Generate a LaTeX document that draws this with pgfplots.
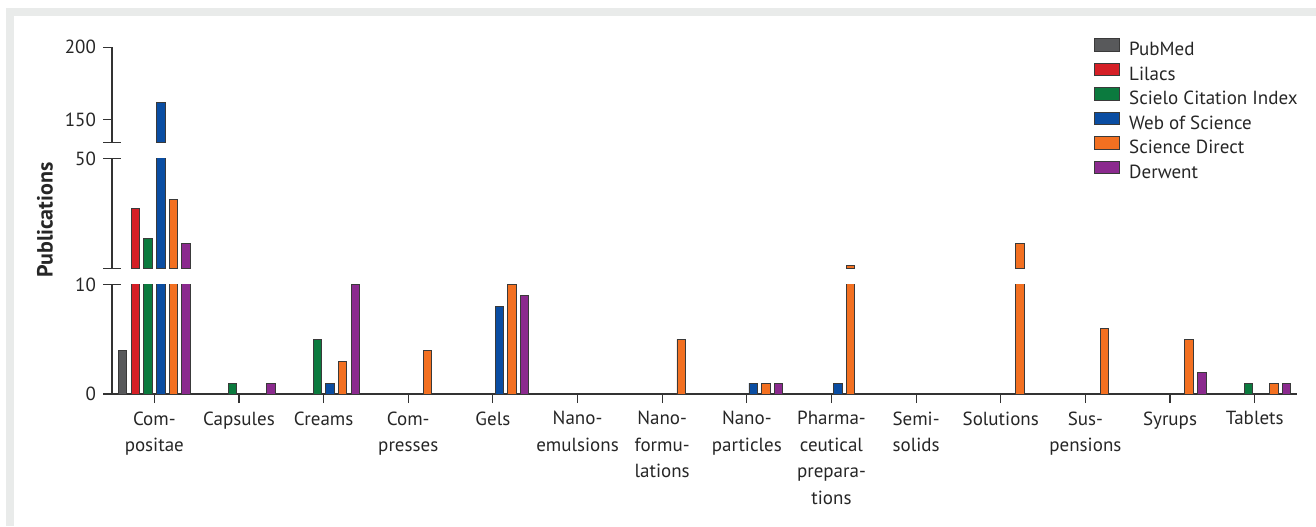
\documentclass[border=0pt]{standalone}
\usepackage{fontspec}
\setmainfont{PT Sans}
\usepackage{pgfplots}
\usepackage{pgfplotstable}
\pgfplotsset{compat=1.18}
\definecolor{cPub}{HTML}{58595B}
\definecolor{cLil}{HTML}{D51F26}
\definecolor{cSci}{HTML}{0B7A3E}
\definecolor{cWos}{HTML}{0A4DA2}
\definecolor{cSd}{HTML}{F37021}
\definecolor{cDer}{HTML}{8B2A8E}
\definecolor{barcol}{HTML}{3A3A3A}
\definecolor{axcol}{HTML}{333333}
\definecolor{framecol}{HTML}{E9EBEA}
\pgfplotstableread{
x pub lil sci wos sd der
0 4 32 21 162 35 19
1 0 0 1 0 0 1
2 0 0 5 1 3 10
3 0 0 0 0 4 0
4 0 0 0 8 10 9
5 0 0 0 0 0 0
6 0 0 0 0 5 0
7 0 0 0 1 1 1
8 0 0 0 1 11 0
9 0 0 0 0 0 0
10 0 0 0 0 19 0
11 0 0 0 0 6 0
12 0 0 0 0 5 2
13 0 0 1 0 1 1
}\data
\pgfplotsset{
  brk/.style={scale only axis, width=592.5pt, xmin=-0.5, xmax=13.5,
    anchor=south west,
    axis line style={draw=axcol, line width=0.6pt, -},
    tick style={draw=axcol, line width=0.6pt},
    tick align=outside, major tick length=4.5pt,
    ytick pos=left,
    tick label style={font=\fontsize{9.5}{11}\selectfont, text=black!85},
    /pgf/number format/assume math mode=true},
  bars/.style={ybar, bar width=0.1, draw=barcol, line width=0.4pt, forget plot},
}
\newcommand{\allbars}{%
  \addplot[bars, fill=cPub, bar shift=-0.375] table[x=x,y=pub] {\data};
  \addplot[bars, fill=cLil, bar shift=-0.225] table[x=x,y=lil] {\data};
  \addplot[bars, fill=cSci, bar shift=-0.075] table[x=x,y=sci] {\data};
  \addplot[bars, fill=cWos, bar shift=0.075] table[x=x,y=wos] {\data};
  \addplot[bars, fill=cSd, bar shift=0.225] table[x=x,y=sd] {\data};
  \addplot[bars, fill=cDer, bar shift=0.375] table[x=x,y=der] {\data};
}
\begin{document}
\begin{tikzpicture}
\useasboundingbox (0,0) rectangle (658pt,263pt);
\fill[framecol] (3pt,255pt) rectangle (658pt,259pt);
\fill[framecol] (3pt,0pt) rectangle (7pt,259pt);
\node[rotate=90, font=\bfseries\fontsize{11}{13}\selectfont, text=black!85] at (22.5pt,153pt) {Publications};
% bottom segment
\begin{axis}[brk, at={(56pt,66pt)}, height=54.75pt, ymin=0, ymax=10,
  axis x line*=bottom, axis y line*=left,
  ytick={0}, extra y ticks={10},
  extra y tick style={tick align=center, major tick length=9pt},
  xtick={0,...,13}, xtick pos=bottom,
  xticklabels={{Com-\\positae},Capsules,Creams,{Com-\\presses},Gels,{Nano-\\emulsions},{Nano-\\formu-\\lations},{Nano-\\particles},{Pharma-\\ceutical\\prepara-\\tions},{Semi-\\solids},Solutions,{Sus-\\pensions},Syrups,Tablets},
  xticklabel style={align=center, font=\fontsize{9.5}{13.2}\selectfont, yshift=-0.7pt},
  restrict y to domain=0.5:1000]
\allbars
\end{axis}
% middle segment
\begin{axis}[brk, at={(56pt,128.85pt)}, height=54.9pt, ymin=10, ymax=50,
  axis x line=none, axis y line*=left, xtick=\empty,
  ytick={10,50}, yticklabels={,50}, tick align=center, major tick length=9pt,
  restrict y to domain=10.5:1000]
\allbars
\end{axis}
% top segment
\begin{axis}[brk, at={(56pt,191.75pt)}, height=47.6pt, ymin=134, ymax=200,
  axis x line=none, axis y line*=left, xtick=\empty,
  ytick={150,200}, extra y ticks={134}, extra y tick labels={},
  extra y tick style={tick align=center, major tick length=9pt},
  restrict y to domain=134:1000,
  legend image code/.code={\draw[#1,line width=0.4pt] (0pt,0pt) rectangle (12.5pt,6.3pt);},
  legend cell align=left,
  legend style={at={(0.8287,1.098)}, anchor=north west, draw=none, fill=none,
    inner sep=0pt, row sep=1.5pt, column sep=4.5pt,
    font=\fontsize{9.5}{11}\selectfont, text=black!85,
    nodes={inner sep=0pt, text height=6.5pt, text depth=2pt}}]
\allbars
\addlegendimage{fill=cPub, draw=barcol}
\addlegendentry{PubMed}
\addlegendimage{fill=cLil, draw=barcol}
\addlegendentry{Lilacs}
\addlegendimage{fill=cSci, draw=barcol}
\addlegendentry{Scielo Citation Index}
\addlegendimage{fill=cWos, draw=barcol}
\addlegendentry{Web of Science}
\addlegendimage{fill=cSd, draw=barcol}
\addlegendentry{Science Direct}
\addlegendimage{fill=cDer, draw=barcol}
\addlegendentry{Derwent}
\end{axis}
\end{tikzpicture}
\end{document}
